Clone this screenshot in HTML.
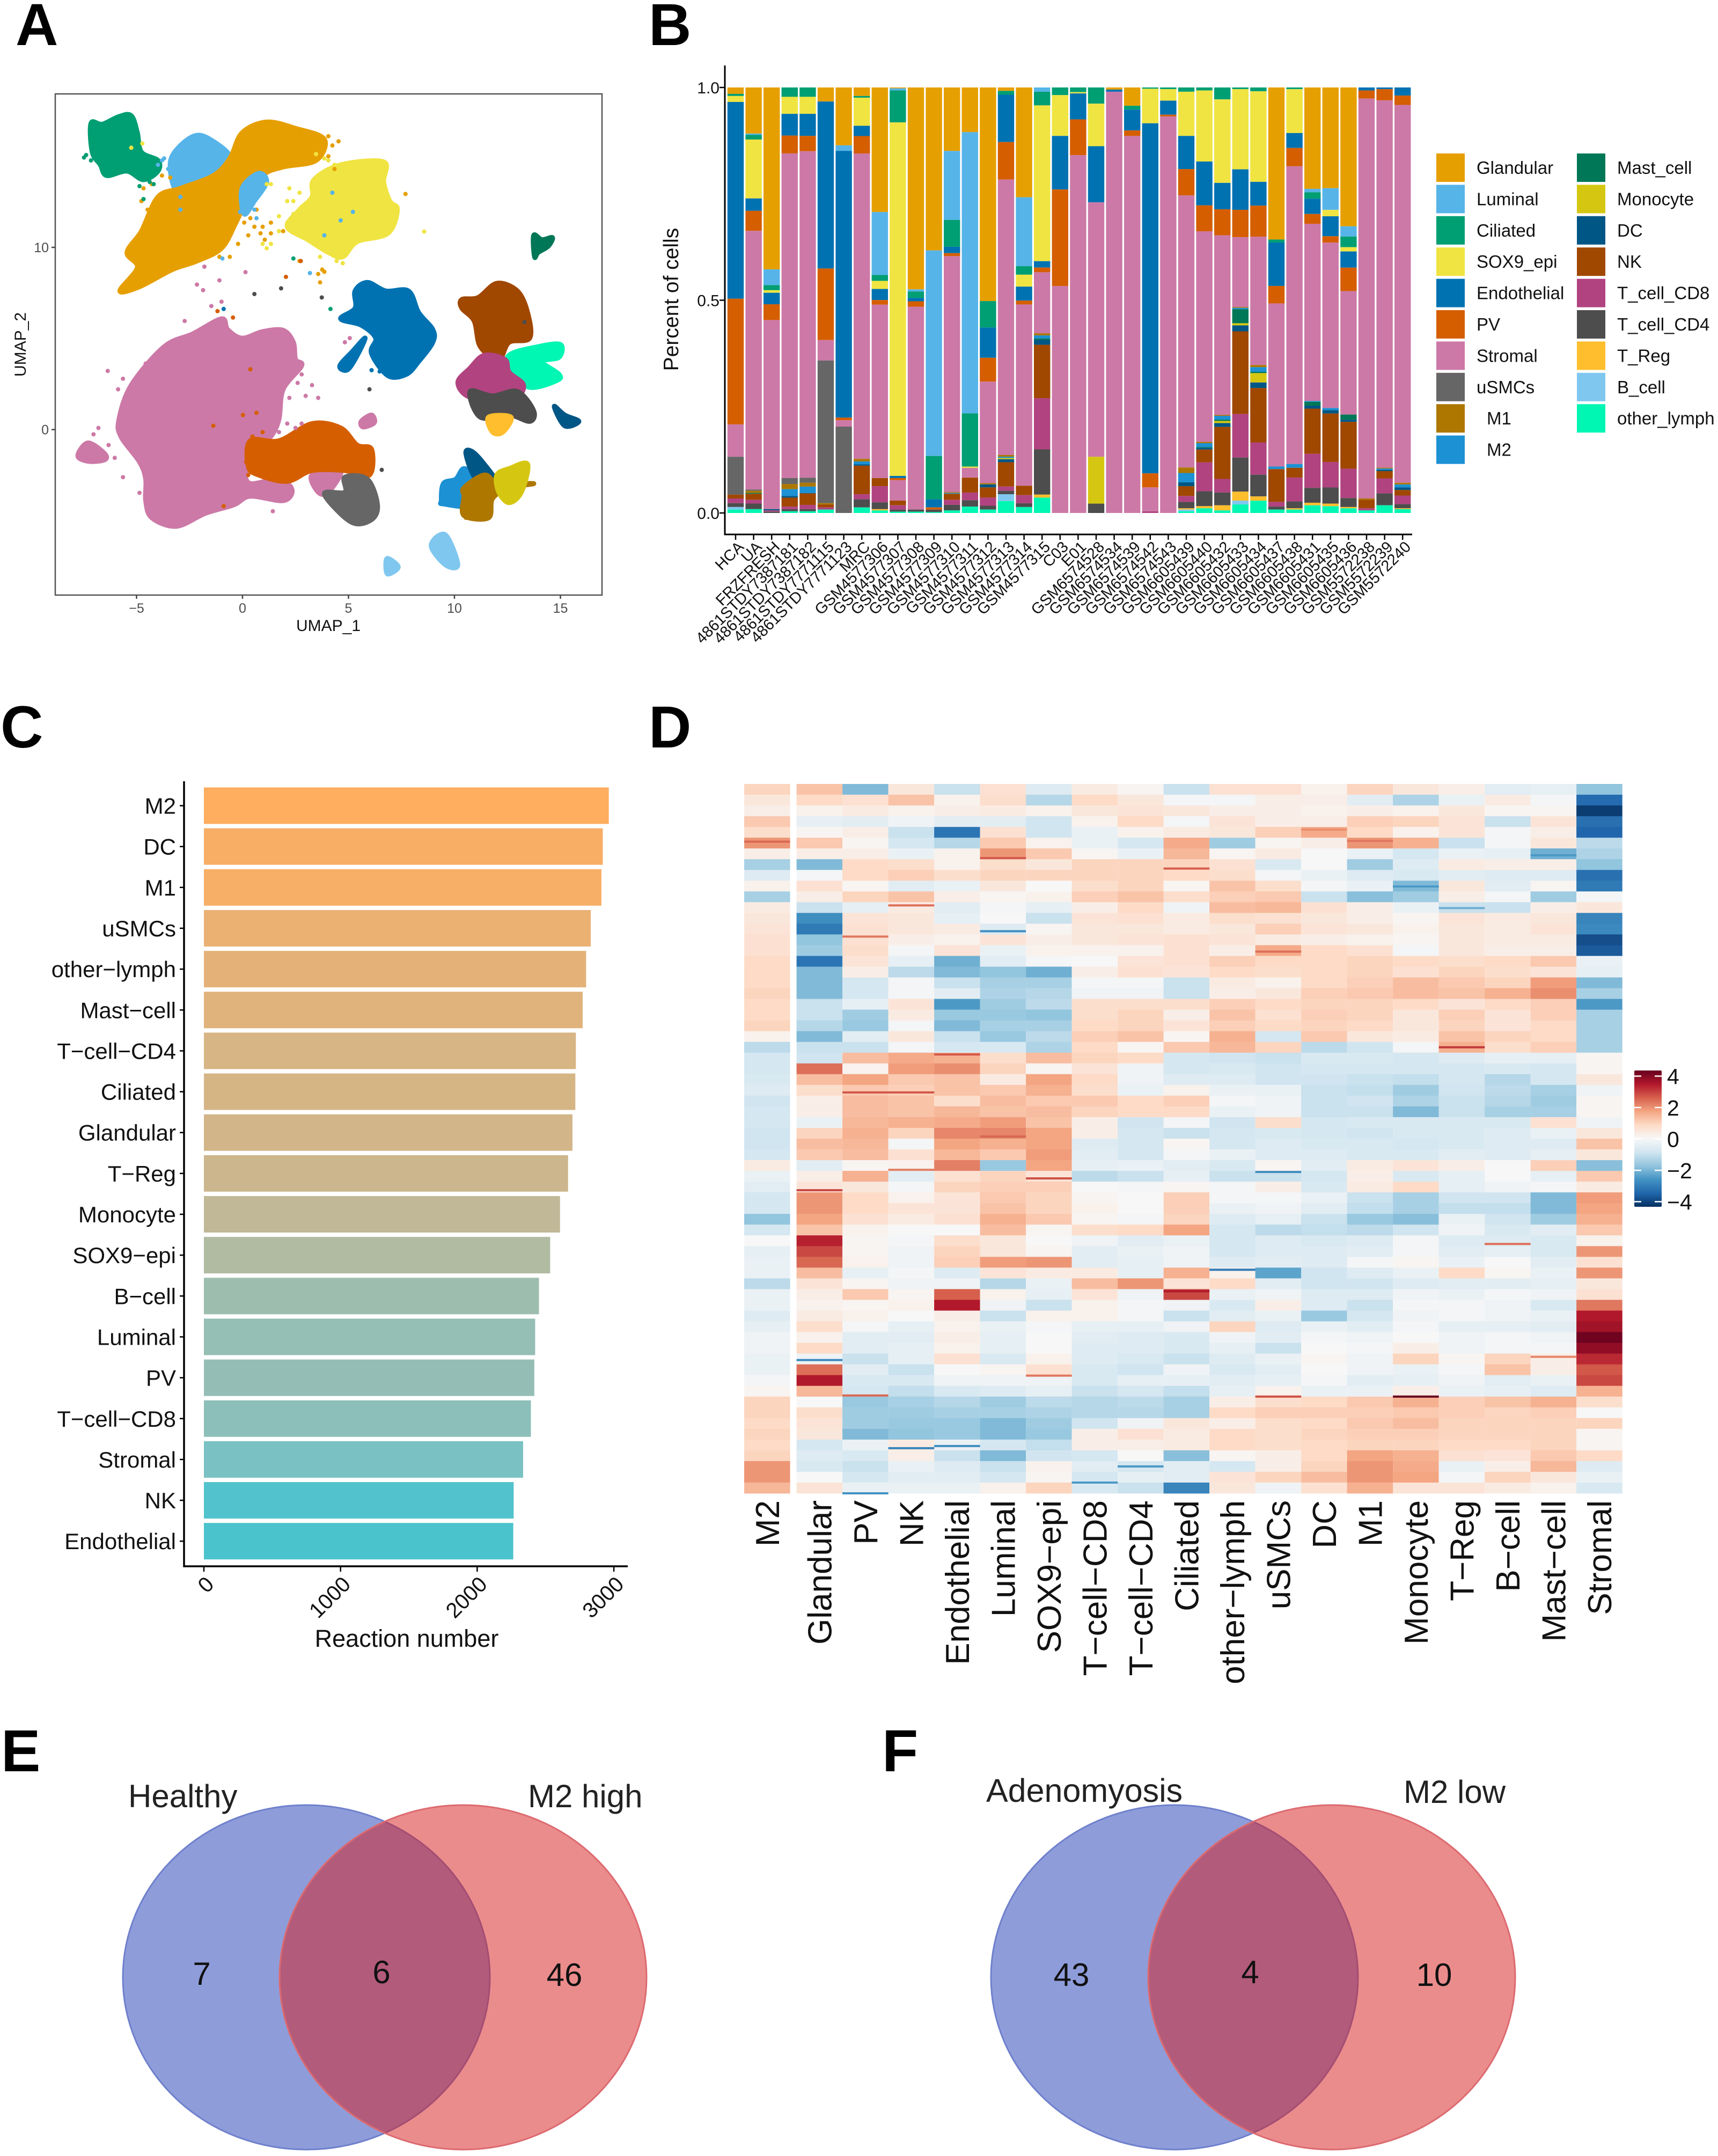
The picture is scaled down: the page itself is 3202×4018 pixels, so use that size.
<!DOCTYPE html>
<html lang="en">
<head>
<meta charset="utf-8">
<title>Cell atlas multi-panel figure</title>
<style>
html,body{margin:0;padding:0;background:#fff;}
svg{display:block;font-family:"Liberation Sans",Arial,sans-serif;}
</style>
</head>
<body>
<svg id="figure" xmlns="http://www.w3.org/2000/svg" width="3202" height="4018" viewBox="0 0 3202 4018">
<rect x="0" y="0" width="3202" height="4018" fill="#ffffff"/>
<g font-weight="700" font-size="110" fill="#000">
<text x="29" y="84">A</text>
<text x="1209" y="84">B</text>
<text x="1" y="1393">C</text>
<text x="1209" y="1393">D</text>
<text x="2" y="3301">E</text>
<text x="1644" y="3301">F</text>
</g>
<g id="panelA"></g>
<g id="panelB"></g>
<g id="panelC"></g>
<g id="panelD"></g>
<g>
<ellipse cx="571" cy="3685" rx="342" ry="321" fill="rgb(29,59,181)" fill-opacity=".5" stroke="#6f80cc" stroke-width="3"/>
<ellipse cx="863" cy="3685" rx="342" ry="321" fill="rgb(215,25,25)" fill-opacity=".5" stroke="#dc6a70" stroke-width="3"/>
<text x="239" y="3368" font-size="60" fill="#222">Healthy</text>
<text x="984" y="3368" font-size="60" fill="#222">M2 high</text>
<text x="376" y="3699" font-size="60" text-anchor="middle" fill="#111">7</text>
<text x="711" y="3696" font-size="60" text-anchor="middle" fill="#111">6</text>
<text x="1052" y="3701" font-size="60" text-anchor="middle" fill="#111">46</text>
</g>
<g>
<ellipse cx="2189" cy="3685" rx="342" ry="321" fill="rgb(29,59,181)" fill-opacity=".5" stroke="#6f80cc" stroke-width="3"/>
<ellipse cx="2482" cy="3685" rx="342" ry="321" fill="rgb(215,25,25)" fill-opacity=".5" stroke="#dc6a70" stroke-width="3"/>
<text x="1838" y="3358" font-size="61" fill="#222">Adenomyosis</text>
<text x="2616" y="3360" font-size="60" fill="#222">M2 low</text>
<text x="1997" y="3701" font-size="60" text-anchor="middle" fill="#111">43</text>
<text x="2330" y="3696" font-size="60" text-anchor="middle" fill="#111">4</text>
<text x="2673" y="3701" font-size="60" text-anchor="middle" fill="#111">10</text>
</g>
</svg>
<script>
/* ---------- shared palette ---------- */
const cellTypes = ['Glandular','Luminal','Ciliated','SOX9_epi','Endothelial','PV','Stromal','uSMCs','M1','M2','Mast_cell','Monocyte','DC','NK','T_cell_CD8','T_cell_CD4','T_Reg','B_cell','other_lymph'];
const cellColors = ['#E69F00','#56B4E9','#009E73','#F0E442','#0072B2','#D55E00','#CC79A7','#666666','#AD7700','#1C91D4','#007756','#D5C711','#005685','#A04700','#B14380','#4D4D4D','#FFBE2D','#80C7EF','#00F6B3'];

/* ---------- panel A: UMAP cluster outlines and stray cells (UMAP units) ---------- */
const umapTicksX = [-5,0,5,10,15];
const umapTicksY = [0,10];
const stromalOutline = [[-.99,6.08],[-.7,5.49],[-.02,5.02],[.95,5.38],[1.92,5.45],[2.4,4.79],[2.5,3.85],[2.79,3.5],[1.92,2.21],[1.72,.56],[1.34,-.38],[.56,-1.31],[.17,-2.25],[.37,-2.96],[1.72,-2.72],[2.34,-3.31],[1.92,-3.9],[.37,-3.66],[-.41,-4.13],[-1.76,-4.6],[-3.12,-5.31],[-4.28,-4.84],[-4.57,-3.9],[-4.57,-2.72],[-4.86,-1.78],[-5.74,-.38],[-5.83,.56],[-5.25,2.44],[-3.7,4.55],[-2.34,5.26]];
const stromalLeftIsland = [[-7.77,-1.43],[-7.29,-.73],[-6.51,-1.31],[-6.51,-1.66],[-7.29,-1.74]];
const stromalRightIsland = [[5.6,.45],[6.08,.8],[6.22,.38],[5.7,.14]];
const stromalLowerIsland = [[3.28,-2.49],[4.63,-2.25],[4.05,-3.43],[3.57,-3.43]];
const luminalOutline = [[-3.41,14.65],[-2.93,15.59],[-2.15,16.15],[-1.38,15.82],[-.6,15],[-.99,14.18],[-2.15,13.59],[-3.12,13.12]];
const ciliatedOutline = [[-7.15,16.81],[-6.61,16.76],[-5.83,17.18],[-5.25,17.23],[-4.96,16.29],[-4.77,15.23],[-3.99,14.77],[-3.99,14.18],[-4.67,13.71],[-5.45,14.18],[-6.41,13.94],[-6.71,14.53],[-7.09,15.23]];
const glandularOutline = [[-5.79,7.61],[-4.96,8.9],[-5.45,9.72],[-4.77,10.89],[-3.99,12.77],[-2.93,13.24],[-1.38,13.94],[-.6,14.88],[-.02,16.29],[1.14,16.88],[2.5,16.53],[3.86,15.94],[3.47,14.77],[1.92,14.41],[.95,13.94],[.17,12.54],[-.31,11.36],[-.99,9.95],[-2.15,9.25],[-3.31,8.78],[-4.86,7.84]];
const luminalPatch = [[-.02,13.24],[.75,14.06],[1.14,13.59],[.56,12.54],[.08,11.83]];
const sox9Outline = [[3.37,13.71],[4.63,14.53],[6.66,14.69],[6.66,13.59],[6.95,12.54],[7.31,12.07],[6.86,10.77],[5.41,10.31],[4.73,9.48],[4.05,9.72],[3.08,10.42],[2.11,11.13],[2.69,12.07],[3.28,12.77]];
const endothelialOutline = [[5.31,7.61],[5.89,8.08],[6.76,7.61],[7.83,7.61],[8.31,6.43],[8.98,5.49],[8.98,4.79],[8.31,3.73],[7.73,3.03],[6.86,2.96],[6.08,4.2],[6.28,5.02],[5.6,5.73],[4.63,6.08],[5.31,6.66]];
const endothelialIsland = [[4.59,3.5],[5.21,4.32],[5.79,5.02],[5.31,3.85],[4.92,3.26]];
const pvOutline = [[.27,-2.02],[.37,-.61],[1.72,-.61],[3.28,.33],[4.63,.09],[5.41,-.85],[6.09,-1.08],[5.99,-2.49],[4.82,-2.25],[3.28,-2.25],[2.11,-2.84],[.75,-2.49]];
const usmcOutline = [[4.83,-2.61],[5.89,-2.72],[6.37,-4.13],[6.08,-4.95],[5.12,-5.07],[3.86,-3.54],[4.83,-3.43]];
const nkOutline = [[10.35,7.14],[11.12,7.25],[12,8.03],[12.97,7.61],[13.45,6.43],[13.55,5.02],[12.58,4.79],[12.09,3.85],[11.22,4.55],[10.93,5.96],[10.35,6.66]];
const cd8Outline = [[10.16,2.56],[10.74,3.38],[11.41,4.08],[12.38,3.85],[12.58,3.15],[13.26,2.44],[12.78,1.74],[10.83,1.74]];
const cd4Outline = [[10.74,2.09],[11.8,1.85],[12.97,2.09],[13.74,1.03],[13.55,.45],[12.58,.8],[11.22,.68]];
const tregOutline = [[11.61,.68],[12.67,.68],[12.28,-.14],[11.8,-.14]];
const lymphOutline = [[12.58,4.08],[13.93,4.55],[15,4.67],[14.94,3.97],[14.13,3.73],[14.94,3.03],[14.81,2.68],[13.55,2.32],[12.58,3.15]];
const mastOutline = [[13.74,10.66],[14.13,10.42],[14.62,10.54],[14.43,10.07],[13.95,9.72],[13.78,9.48]];
const dcRightIsland = [[14.71,1.27],[15.2,.8],[15.87,.45],[15.2,.21]];
const dcOutline = [[10.54,-1.31],[10.83,-1.2],[11.41,-1.9],[12,-2.96],[11.03,-2.72]];
const m2Outline = [[9.38,-3.9],[9.48,-2.96],[10.06,-2.72],[10.45,-2.14],[11.03,-2.72],[10.83,-4.13],[9.48,-4.08]];
const m1Outline = [[10.45,-3.19],[11.41,-2.49],[12.09,-2.96],[13.74,-2.96],[12.58,-3.19],[11.8,-3.78],[11.61,-4.84],[10.45,-4.72],[10.45,-3.66]];
const monocyteOutline = [[12,-2.49],[12.58,-2.14],[13.45,-1.9],[13.16,-3.43],[12.58,-4.01],[12.09,-3.43]];
const bcellOutline = [[8.9,-6.36],[9.57,-5.77],[10.16,-7.42],[9.57,-7.42]];
const bcellIsland = [[6.76,-7.42],[6.86,-7.07],[7.35,-7.54],[6.86,-7.93]];
const stromalStrays = [[-6.36,3.22],[-5.64,2.79],[-5.87,2.21],[-4.57,3.62],[-4.19,3.73],[-6.8,.09],[-7.03,-.26],[-6.32,-.85],[-6.03,-1.55],[-5.64,-2.61],[-4.86,-3.47],[2.79,3.03],[2.6,2.56],[3.28,2.44],[2.98,1.85],[3.57,1.74],[2.21,1.74],[2.11,.33],[2.5,.09],[1.43,-4.48],[-2.15,7.96],[-1.86,7.65],[-1.09,8.19],[.14,8.64],[-1.8,8.94],[-1.47,6.78],[-.99,7.02],[-.89,5.96],[-2.73,5.96],[-3.41,4.79],[4.83,4.79],[5.06,5.02],[1.72,-.14],[2.79,.33]];
const glandularStrays = [[4.53,15.82],[4.05,16.1],[4.05,15],[7.69,12.93],[3.86,8.66],[3.66,8.08],[-4.48,12.07],[-4.67,13.24],[-3.41,13.83],[.95,11.13],[1.34,10.77],[.37,11.6],[-.21,10.19],[4.34,14.3],[2.69,9.25],[-3.8,13.94],[-4.28,13.47],[-4.77,12.54],[.56,11.13],[.85,10.77],[1.34,11.36],[.27,10.66],[3.47,14.88],[3.86,15.47],[4.24,15.59],[3.47,15.35],[3.76,8.78],[3.57,8.54],[1.92,10.89],[1.05,10.42],[-.6,9.48],[-1.09,9.48],[.08,11.36],[.66,12.07]];
const sox9Strays = [[8.57,10.87],[4.05,14.77],[3.47,15.12],[2.4,12.54],[2.21,13.24],[1.14,13.47],[1.14,9.95],[4.73,9.13],[.95,10.19],[-5.25,15.47],[-4.73,15.7],[1.72,11.71],[1.34,13.47],[2.11,12.54],[2.4,11.83],[2.69,13],[2.11,11.36],[1.72,10.89],[1.34,10.19],[3.66,9.48],[4.44,9.25],[3.86,14.88],[4.34,14.53]];
const ciliatedStrays = [[-7.48,14.93],[-7.15,14.77],[-4.67,12.65],[-4.19,13.47],[2.4,9.39],[4.15,6.62],[-4.86,13.36],[-4.38,13.59],[-7.38,15.07],[-6.61,14.18]];
const luminalStrays = [[.17,12.07],[.66,11.6],[-.02,12.54],[3.86,10.66],[4.24,13],[4.63,11.48],[5.21,11.95],[-2.93,12.07],[3.18,8.59],[-.95,9.39],[-3.99,14.53],[-3.7,14.88],[-3.51,14.3],[-3.8,14.77],[.37,12.54],[.17,11.83],[.56,12.07],[-.12,11.95],[.95,13.24],[.47,13],[-2.93,12.77]];
const pvStrays = [[.37,3.31],[.02,.8],[.66,.92],[-1.38,.21],[-.45,6.15],[-1.18,6.5],[2.05,8.38],[2.75,9.25],[-.89,-4.2],[.17,-1.78],[.27,-2.49],[.47,-.38],[.95,-.14]];
const cd4Strays = [[.56,7.44],[1.82,7.75],[3.74,7.25],[5.99,2.21],[6.57,-2.21],[13.3,5.9]];
const endothelialStrays = [[6.09,3.26],[6.47,3.19],[-.89,6.62]];
const m1Strays = [[10.83,-4.37],[11.32,-4.72],[10.54,-4.84],[11.61,-4.25]];

/* ---------- panel B: percent composition per sample, one array per cell type ---------- */
const sampleNames = ['HCA','UA','FRZFRESH','4861STDY7387181','4861STDY7387182','4861STDY7771115','4861STDY7771123','MRC','GSM4577306','GSM4577307','GSM4577308','GSM4577309','GSM4577310','GSM4577311','GSM4577312','GSM4577313','GSM4577314','GSM4577315','C03','E01','GSM6574528','GSM6574534','GSM6574539','GSM6574542','GSM6574543','GSM6605439','GSM6605440','GSM6605432','GSM6605433','GSM6605434','GSM6605437','GSM6605438','GSM6605431','GSM6605435','GSM6605436','GSM5572238','GSM5572239','GSM5572240'];
const pctGlandular = [1.5,10.8,42.7,0,0,3.3,13.6,2,29.3,.2,47.4,38.3,14.9,10.5,50.1,.8,25.8,0,0,0,0,.5,4.3,0,0,0,0,0,0,0,35.7,0,23.8,23.7,32.6,0,0,0];
const pctLuminal = [0,.3,3.7,0,0,0,1.3,0,14.8,.5,.5,48.3,16.2,66.1,0,0,16.2,1,0,0,0,0,0,0,0,0,0,0,0,0,0,0,.8,5.1,2.4,0,0,0];
const pctCiliated = [.5,1.1,1.2,2.2,2.2,0,0,.4,1.4,7.5,1.5,10.2,6.3,12.5,6.2,.9,2,3.2,1.8,1.1,3.8,0,.9,.3,.4,1,.7,2.8,.4,.9,.7,.4,1.5,0,2.5,0,0,0];
const pctSox9 = [1.4,13.8,.6,4,4,0,0,6.6,1.9,83,0,0,0,.3,0,0,2.8,36.5,9.6,.3,10,0,0,8.1,2.7,10.4,16.7,19.6,18.8,21.3,0,10.3,0,1.5,1,0,0,0];
const pctEndothelial = [46.2,2.9,2.7,5.1,5.2,39.2,62.7,2.4,2.6,.5,.8,1.9,1.5,0,7.1,11.1,3.3,1.5,12.6,6.1,13.2,.5,4.9,82.1,3.3,7.8,10.3,6.2,9.5,5.6,10.2,3.5,3.6,4.7,3.8,.7,.4,1.9];
const pctPV = [29.5,4.7,3.7,4.2,3.6,16.8,.6,4.1,1.1,.5,1.3,.5,.7,0,5.6,8.8,.9,1.1,22.7,8.4,0,0,1.3,3.3,.4,6.2,6.1,6.1,6.4,7.3,4.1,4.3,2.3,1.5,5.5,1.9,2.6,2.2];
const pctStromal = [7.6,60.6,44.4,76.3,76.8,4.8,1.5,71.7,40.8,4.8,47.6,0,55.4,2.3,23.8,64.6,42.6,14.3,53.4,84.1,59.8,98.9,88.6,5.6,93.2,64,49.5,42.2,16.4,30.2,38.3,69.9,41.6,38.9,29,93.8,86,88.8];
const pctUsmc = [8.9,.3,0,1.4,1.2,33.5,20.3,0,0,0,0,0,0,0,0,0,0,0,0,0,0,0,0,0,0,0,0,0,0,0,0,0,0,0,0,0,0,0];
const pctM1 = [0,.5,0,1.2,.9,.3,0,.6,0,0,0,0,.2,0,.3,.4,0,.5,0,0,0,0,0,0,0,1.3,.3,.2,.2,.5,0,0,0,0,0,.3,.2,.4];
const pctM2 = [0,0,0,1.6,1.5,0,0,.7,0,0,0,0,.2,0,0,.3,0,.7,0,0,0,0,0,0,0,2.2,.9,.9,.3,1.1,.6,.9,.2,.5,0,0,.3,.7];
const pctMast = [0,.2,0,0,0,0,0,0,0,0,0,0,0,0,0,0,0,.3,0,0,0,0,0,0,0,0,.2,.3,3.3,.3,0,0,.9,0,1.2,0,0,0];
const pctMonocyte = [0,0,0,0,0,0,0,0,0,0,0,0,0,0,0,.3,0,0,0,0,11,0,0,0,0,0,0,.5,.5,2.2,0,0,0,0,0,0,0,0];
const pctDC = [0,0,.3,.4,.1,0,0,.3,0,0,0,0,0,0,.7,.7,0,1.2,0,0,0,0,0,0,0,.9,.4,.9,1.4,1.3,0,0,.7,.8,.5,0,.3,.6];
const pctNK = [.9,1.4,0,2.1,2.7,.7,0,6.7,1.9,1.1,0,0,1.4,3.5,2.4,5.7,2.2,12.5,0,0,0,0,0,0,0,2.3,3,12.2,19.4,12.8,7.7,2.3,10.6,11.4,11,2,1.7,1.3];
const pctCD8 = [1.1,.9,.3,.6,1,.5,0,1.2,3.8,1,0,0,1.2,1.8,1.9,1,1.9,12,0,0,0,0,0,.4,0,1.4,6.8,3.2,10.2,7.6,1.1,5.6,8,6,6.9,.5,3.5,2];
const pctCD4 = [.9,1.3,.3,.5,.5,0,0,1.9,1.6,.5,.5,.6,1.3,1.5,.9,.8,.9,10.6,0,0,2.2,0,0,0,0,1.5,3.5,3,8,5.1,.7,1.6,3.5,3.8,2.1,0,2.8,1];
const pctTreg = [0,0,0,0,0,0,0,0,.3,0,0,0,0,0,0,0,0,.7,0,0,0,0,0,0,0,.3,.5,1.2,2.1,1,0,.3,.6,.6,.3,0,0,.2];
const pctBcell = [.6,0,0,0,0,0,0,0,0,0,0,0,0,0,0,1.6,0,0,0,0,0,0,0,0,0,.4,0,0,.9,0,0,0,0,0,0,0,0,0];
const pctOther = [.8,.9,0,.4,.4,.8,0,1.3,.6,.3,.3,.2,.6,1.5,.8,2.8,1.4,3.6,0,0,0,0,0,0,0,.4,1.1,.6,2,2.9,.8,.8,1.8,1.6,1.1,.6,1.8,.9];
const percentTicks = [0,0.5,1];

/* ---------- panel C: reaction numbers ---------- */
const reactionCategories = ['M2','DC','M1','uSMCs','other−lymph','Mast−cell','T−cell−CD4','Ciliated','Glandular','T−Reg','Monocyte','SOX9−epi','B−cell','Luminal','PV','T−cell−CD8','Stromal','NK','Endothelial'];
const reactionValues = [2963,2919,2909,2831,2797,2772,2722,2718,2697,2665,2606,2534,2452,2424,2418,2393,2336,2267,2264];
const reactionTicks = [0,1000,2000,3000];

/* ---------- panel D: pathway activity z-scores, one array per column, banded rows ---------- */
const heatColumns = ['M2','Glandular','PV','NK','Endothelial','Luminal','SOX9−epi','T−cell−CD8','T−cell−CD4','Ciliated','other−lymph','uSMCs','DC','M1','Monocyte','T−Reg','B−cell','Mast−cell','Stromal'];
const hmM2 = [1,.5,.3,1.2,.8,2,.3,-1.5,-.6,.2,-1.5,.4,.5,.6,.7,.7,.9,.9,.9,1,.9,.9,1,.2,-1.2,-.8,-.8,-.7,-.6,-.9,-.8,-.8,-.9,-.9,-.8,.4,-.3,-.5,-.8,-.8,-1.8,-.8,0,-.4,-.3,-.3,-1.2,-.3,-.3,-.6,-.4,-.2,-.2,-.3,-.3,-.1,.1,1,1,.9,1,.9,1,2,2,1.5];
const hmGlandular = [1.3,.9,.2,-.4,.1,1.2,.3,-2,-.1,.7,.3,-1,-2.8,-3.2,-1.8,-1.6,-3.3,-2,-2,-2,-1,-1,-1.3,-2,-1,-.9,2.5,1.4,.8,.3,.3,-.3,1,1.4,1.2,-.5,.3,.6,2,2,1.8,1.3,3.5,3,2.6,1.4,.6,.3,.2,.4,.8,.2,.9,-.2,2.5,3.6,1.5,0,.8,.6,.5,-.8,-.6,-.7,0,.6];
const hmPV = [-2,.7,.4,-.5,.3,.1,.3,.9,.9,.1,1,-.4,.6,.7,.7,.8,.6,.3,-.8,-.8,-.4,-1.6,-1.7,-.5,-1,1.4,.2,1.8,1.2,1.4,1.4,1.5,1.6,1.5,1.4,.1,1.6,.5,.9,.9,.7,.2,.1,.1,.2,-.4,.1,1.2,.1,.2,-.1,-.5,-.5,-1,-.5,-.7,-.8,-1.7,-1.6,-1.6,-2,-.3,-.7,-1,-.8,-.3];
const hmNK = [.5,1.3,.2,-.2,-1,-.8,-.3,.8,1.1,-.5,1.3,.4,.5,.5,.3,-.1,-.4,-1.2,-.1,-.1,.6,.4,-.1,.5,-.1,1.7,1.9,1.2,1.1,1.3,1.3,1.6,1,-.1,.7,.2,-.5,-.1,.2,.6,.4,0,-.1,-.2,-.2,-.1,-.2,.1,.2,0,-.4,-.5,-.4,-.4,-1,-.7,-1.1,-1.5,-1.6,-1.7,-1.8,.4,.3,-.3,-.5,-.3];
const hmEndothelial = [-1,.2,.3,-.5,-3.3,-1.3,.2,.2,.8,-.3,.3,-.5,-.4,.4,.2,.6,-2.2,-2,-1,-.5,-2.6,-1.7,-2,-1,-.8,1.6,2.1,1.3,1.3,.8,1.5,1.7,2.2,1.8,1.5,2.3,.7,1,.6,.6,.7,0,.8,1,1.1,-.6,-.2,2.7,3.6,.3,.2,.3,.2,.7,0,-.2,-.7,-1.3,-1.5,-1.7,-1.7,-.3,-1,-.6,-.5,-.3];
const hmLuminal = [.7,.8,.4,-.5,.7,1.2,2,.8,1,.5,.1,-.1,0,-.6,.6,-.3,-.5,-1.8,-1.5,-1.4,-1.6,-1.7,-1.5,-1.7,-.7,.8,1,.4,1.2,1.4,1.3,1.9,2.2,1.6,1.2,-1.7,1,1.1,1.2,1.3,1.6,1.4,.5,.5,1.9,.6,-1.3,.2,-.2,-1,-.3,-.4,-.4,-.7,.1,-.2,-.6,-1.6,-1.5,-2,-2,-.8,-2,-1,-.8,.2];
const hmSox9 = [-.6,-1.3,.2,-.9,-.9,.2,1.2,.5,1,0,.2,-.4,-1,.1,.3,.2,-.1,-2.2,-1.5,-1.3,-1.2,-1.8,-1.5,-1.2,-1.4,1.4,.1,1.8,1.6,1.2,1.4,1.3,1.8,1.8,1.9,1.8,.6,1.1,1,1,1.2,.1,0,.1,2,.4,-.3,-.4,-1,.2,-.1,0,0,.2,.7,-.2,-.4,-1.2,-1.4,-1.6,-1.7,-1.1,-.9,.2,.1,1];
const hmCD8 = [.4,.9,.5,.2,-.3,-.3,.1,1,1,.8,1.1,.3,.6,.5,.5,.2,0,.3,-.1,-.2,.8,.8,.9,1.1,.9,1,.6,.9,.8,1.2,1,.3,.3,-.6,-.5,-.4,-1.2,0,.1,.2,.1,.8,-.2,-.5,-.5,.4,1.4,.6,.2,.2,-.4,-.5,-.6,-.6,-.7,-.7,-1,-1.3,-1.3,-.9,.3,.3,-.8,-.5,-.8,-.7];
const hmCD4 = [.1,.5,.6,.9,.2,-.8,-.3,1,1,1,1.3,.9,.7,.5,.6,.2,.6,.7,-.1,-.2,.8,1,1,1.3,.1,.9,-.2,-.2,-.3,.9,.9,-.9,-.8,-.8,-.8,-.3,-1,-.1,0,0,-.1,.9,-.5,-.3,-.4,-.4,2,-.2,-.1,-.1,-.4,-.6,-.6,-.7,-.9,-.4,-.8,-1.2,-1.3,-.2,.7,.3,0,-.8,-.4,-1];
const hmCiliated = [-1,-.1,.5,-.1,.4,1.7,1.5,1,.9,.1,.8,-.2,.4,.4,.7,.7,.7,.6,-1,-1,.8,.3,.6,.1,1.2,-.8,-.8,-.6,.2,1.1,.9,-.1,-1,.1,-.1,-.5,-.4,.1,1.1,1.1,1,1.8,-.3,-.2,-.2,1.6,.6,3,-.2,-1,-.2,-.7,-.7,-1,-.2,-.4,-1.1,-1.5,-1.5,.5,.4,.4,-1.9,-.5,-.5,-3];
const hmLymph = [.7,-.1,.3,.6,.5,-1.6,.1,.7,.8,1.3,1.1,1.4,.8,.5,.6,.3,1.1,.9,.4,.3,1.1,1.3,1.1,1.6,1.5,-.9,-.7,-.6,-.3,-.1,-.3,-.9,-.8,-.8,-.3,-.7,-1,-.1,-.1,-.3,-.6,-.8,-.8,-.8,-.6,.2,.9,-.3,-.7,-.5,1,-.2,-.4,-.6,-.7,-.5,-.4,.3,.9,.3,.9,.9,.1,-.8,.6,.5];
const hmUsmc = [.7,.3,.3,.3,1.1,.1,.4,-.7,-.1,.8,1.2,1.5,.7,1.1,.4,1.7,.9,.8,.2,.5,.9,.7,.9,-.8,1,-1,-.9,-.9,-.3,-.2,-.2,.8,-.7,-.6,-.6,.1,-1,.3,-.1,-.2,-.4,-1.2,-.6,-.6,-.5,-2.4,-.5,-.2,.3,-.3,-.6,-.5,-1,-.3,-.5,-.4,.2,.8,1.1,.8,.8,.8,.3,.3,1,-.2];
const hmDC = [.2,.3,.2,.3,1.7,.3,0,0,-.3,-.1,-1,.7,.5,.6,.3,.9,.9,.9,.9,1.1,1,1.1,1,1.2,-1.2,-.7,-.8,-.9,-1,-1,-1,-.8,-.8,-.7,-.6,-.5,-.8,-.7,-.3,-.5,-1,-1.1,-.7,-.6,-.6,-.9,-.9,-.6,-.6,-1.7,-.3,-.1,0,.1,0,-.1,-.3,.9,1.1,.9,1,.9,.9,1,1.4,.7];
const hmM1 = [1,-.5,.3,1.1,.9,2,-.3,-1.6,-.6,-.3,-1.9,.3,.3,.5,.2,.7,1,1,1.1,1.2,1,1,.9,.5,-.9,-.7,-.8,-1,-1.1,-.9,-1,-.7,-.9,-.7,-.7,.4,.3,.4,-1,-1.1,-1.7,-1.2,-.6,-.5,-.1,-.6,-.9,-.6,-1,-.8,-.5,-.2,-.1,-.2,-.2,-.5,-.3,1.2,1.1,1.2,1.1,1,1.8,2,2,1.6];
const hmMonocyte = [.5,-1.4,.2,1,.2,1.6,-.8,-.6,-.7,-2,-1.6,-.3,.1,.2,.1,-.1,.9,.7,1.4,1.4,.9,.5,.5,.4,-.1,-.8,-.8,-1.1,-1.6,-1.4,-2,-.7,-.7,-.8,-.7,.6,-.7,.9,-1.5,-1.5,-1.9,-.9,-.1,-.1,.1,-.3,-.6,-.2,-.1,-.2,-.1,0,.3,1,-.3,-.4,.3,1.6,1.2,1.4,1.1,1,1.6,1.7,1.8,.6];
const hmTreg = [.3,-.3,.5,.6,.6,-1,-.3,.4,-.5,.5,.3,-1,.6,.5,.5,.5,.8,1,1.2,1.3,.6,1.1,1,1.3,1.6,-.6,-.8,-.8,-.9,-1,-1,-.7,-.7,-.7,-.5,.3,-.4,-.4,-.9,-1.1,-.3,-.2,-.6,-.5,-.3,.9,-.5,-.3,-.1,-.1,-.4,-.2,-.2,.1,-.1,-.2,-.3,1.1,1.1,1,1,.9,.7,-.3,-.1,.6];
const hmBcell = [-.5,.4,.1,-1,-.1,-.1,-.4,.3,-.6,-.5,-.1,-1,.4,.4,.4,.3,.9,.8,1,1.6,.9,.6,.6,1,.8,-.4,-.7,-1.3,-1.2,-1.3,-1.5,-.7,-.6,-.6,-.6,0,0,-.2,-.9,-1.1,-.9,-.7,-.6,-.4,0,.1,-.5,-.1,-.2,-.2,-.4,-.1,-.1,1,1.3,-.5,-.4,1.3,1,1,1,.9,.6,.3,1,.4];
const hmMast = [-.4,-.1,.1,.6,.3,.5,-2.2,.3,-.6,.1,-1.6,.3,.5,.6,.4,.3,1.2,.6,1.9,2.1,1.1,1.1,.9,.9,1.1,-.4,-.8,-.8,-1.5,-1.6,-1.5,.7,-.3,-.6,-.4,1.1,-.4,-.1,-2,-2,-1.6,-.5,-.7,-.7,-.5,-.3,-.4,-.2,-.7,-.3,-.5,-.2,-.1,.3,.3,-.3,-.6,1.6,1.1,1,1,1,1.2,1.5,.5,.2];
const hmStromal = [-1.8,-3.5,-4.3,-3.4,-3.6,-1.2,-1.4,-1.8,-3.4,-3.2,-.1,.5,-3,-2.9,-4,-3.8,-.3,-.4,-2,-1.5,-2.6,-1.5,-1.5,-1.5,-1.5,.1,.1,.5,-.2,.1,.1,-.2,.5,1.3,.5,-1.9,1.2,.4,1.9,1.8,1.6,1.2,.2,2,.7,2,.5,.7,2.4,3.6,3.8,4.4,4,3.4,2.8,3,1.6,.8,0,1,.1,.1,.9,-.6,-.3,-.7];
/* thin single-row stripes: fractional band index, column index, z-score */
const streakRows = [5.27,6.8,13.6,14.1,11.2,7.77,32.7,37.7,36.6,47.1,54.95,56.8,61.7,61.5,64.9,63.4,65.9,53.5,35.8,45.1,56.9,36,56.9,42.7,53.2,24.4,9.44,15.5,4.15,5.2,11.45,6.54,25.07,28.6,28.6];
const streakCols = [0,5,5,2,3,9,5,1,6,9,6,2,3,4,7,8,2,1,3,10,11,11,14,16,17,15,14,11,12,13,15,17,4,2,3];
const streakVals = [2.6,2.8,-2.8,2.4,2.5,2.7,2.6,3,2.9,3.6,2.4,2.6,-3,-2.8,-2.6,-2.6,-2.7,-2.9,2.3,-3.2,2.9,-2.8,4.5,2.5,2.2,3.2,-2.6,2.5,2.1,2.4,-2.2,-2.6,2.8,2.8,2.8];
const heatLegendTicks = [4,2,0,-2,-4];

/* ---------- helpers ---------- */
const NS = 'http://www.w3.org/2000/svg';
function mk(parent, tag, attrs, txt){
  const el = document.createElementNS(NS, tag);
  for (const k in attrs) el.setAttribute(k, attrs[k]);
  if (txt !== undefined) el.textContent = txt;
  parent.appendChild(el);
  return el;
}
const fmtMinus = v => String(v).replace('-', '−');
/* closed Catmull-Rom spline through outline points */
function smoothClosed(pts){
  const n = pts.length;
  let d = 'M' + pts[0][0].toFixed(1) + ' ' + pts[0][1].toFixed(1);
  for (let i = 0; i < n; i++){
    const p0 = pts[(i - 1 + n) % n], p1 = pts[i], p2 = pts[(i + 1) % n], p3 = pts[(i + 2) % n];
    const c1x = p1[0] + (p2[0] - p0[0]) / 6, c1y = p1[1] + (p2[1] - p0[1]) / 6;
    const c2x = p2[0] - (p3[0] - p1[0]) / 6, c2y = p2[1] - (p3[1] - p1[1]) / 6;
    d += 'C' + c1x.toFixed(1) + ' ' + c1y.toFixed(1) + ' ' + c2x.toFixed(1) + ' ' + c2y.toFixed(1) + ' ' + p2[0].toFixed(1) + ' ' + p2[1].toFixed(1);
  }
  return d + 'Z';
}

/* ---------- panel A ---------- */
(function(){
  const g = document.getElementById('panelA');
  const xA = v => 452 + 39.5 * v;
  const yA = v => 800.6 - 33.96 * v;
  const colorOf = n => cellColors[cellTypes.indexOf(n)];
  const blobs = [
    ['Stromal',stromalOutline],['Stromal',stromalLeftIsland],['Stromal',stromalRightIsland],['Stromal',stromalLowerIsland],
    ['Luminal',luminalOutline],['Ciliated',ciliatedOutline],['Glandular',glandularOutline],['Luminal',luminalPatch],
    ['SOX9_epi',sox9Outline],['Endothelial',endothelialOutline],['Endothelial',endothelialIsland],
    ['PV',pvOutline],['uSMCs',usmcOutline],['NK',nkOutline],['other_lymph',lymphOutline],['T_cell_CD8',cd8Outline],
    ['T_cell_CD4',cd4Outline],['T_Reg',tregOutline],['Mast_cell',mastOutline],['DC',dcRightIsland],
    ['M2',m2Outline],['DC',dcOutline],['M1',m1Outline],['Monocyte',monocyteOutline],['B_cell',bcellOutline],['B_cell',bcellIsland]
  ];
  blobs.forEach(b => {
    const pts = b[1].map(p => [xA(p[0]), yA(p[1])]);
    const c = colorOf(b[0]);
    const el = mk(g, 'path', {d: smoothClosed(pts), fill: c, stroke: c, 'stroke-width': 9, 'stroke-linejoin': 'round'});
    
    
  });
  const strays = [['Stromal',stromalStrays],['Glandular',glandularStrays],['SOX9_epi',sox9Strays],['Ciliated',ciliatedStrays],['Luminal',luminalStrays],['PV',pvStrays],['T_cell_CD4',cd4Strays],['Endothelial',endothelialStrays],['M1',m1Strays]];
  strays.forEach(s => s[1].forEach(p => {
    const el = mk(g, 'circle', {cx: xA(p[0]), cy: yA(p[1]), r: 4, fill: colorOf(s[0])});
    
    
  }));
  const frame = mk(g, 'rect', {x: 103, y: 175, width: 1019, height: 934, fill: 'none', stroke: '#555', 'stroke-width': 2.5});
  
  
  umapTicksX.forEach(v => {
    const t = mk(g, 'line', {x1: xA(v), x2: xA(v), y1: 1109, y2: 1116, stroke: '#444', 'stroke-width': 2.5});
    
    
    const l = mk(g, 'text', {x: xA(v), y: 1142, 'font-size': 25, fill: '#4d4d4d', 'text-anchor': 'middle'}, fmtMinus(v));
    
    
  });
  umapTicksY.forEach(v => {
    const t = mk(g, 'line', {x1: 96, x2: 103, y1: yA(v), y2: yA(v), stroke: '#444', 'stroke-width': 2.5});
    
    
    const l = mk(g, 'text', {x: 91, y: yA(v) + 9, 'font-size': 25, fill: '#4d4d4d', 'text-anchor': 'end'}, String(v));
    
    
  });
  const xt = mk(g, 'text', {x: 612, y: 1176, 'font-size': 30, 'text-anchor': 'middle', fill: '#111'}, 'UMAP_1');
  
  
  const yt = mk(g, 'text', {x: 48, y: 642, 'font-size': 30, 'text-anchor': 'middle', fill: '#111', transform: 'rotate(-90 48 642)'}, 'UMAP_2');
  
  
})();

/* ---------- panel B ---------- */
(function(){
  const g = document.getElementById('panelB');
  const xB = i => 1371 + 33.6 * i;
  const yB = p => 956 - 793 * p;
  const series = [pctGlandular,pctLuminal,pctCiliated,pctSox9,pctEndothelial,pctPV,pctStromal,pctUsmc,pctM1,pctM2,pctMast,pctMonocyte,pctDC,pctNK,pctCD8,pctCD4,pctTreg,pctBcell,pctOther];
  sampleNames.forEach((name, i) => {
    const total = series.reduce((a, s) => a + s[i], 0);
    let cum = 1;
    series.forEach((s, k) => {
      if (!s[i]) return;
      const f = s[i] / total;
      const r = mk(g, 'rect', {x: xB(i) - 15.2, y: yB(cum), width: 30.4, height: yB(cum - f) - yB(cum), fill: cellColors[k]});
      
      
      cum -= f;
    });
    const t = mk(g, 'line', {x1: xB(i), x2: xB(i), y1: 996, y2: 1006, stroke: '#000', 'stroke-width': 2.5});
    
    
    const lx = xB(i) + 17, ly = 1021;
    const l = mk(g, 'text', {x: lx, y: ly, 'font-size': 29, 'text-anchor': 'end', fill: '#111', transform: 'rotate(-45 ' + lx + ' ' + ly + ')'}, name);
    
    
  });
  const ax = mk(g, 'path', {d: 'M1351 122V996H2632', fill: 'none', stroke: '#000', 'stroke-width': 3});
  
  
  percentTicks.forEach(v => {
    const t = mk(g, 'line', {x1: 1341, x2: 1351, y1: yB(v), y2: yB(v), stroke: '#000', 'stroke-width': 2.5});
    
    
    const l = mk(g, 'text', {x: 1341, y: yB(v) + 11, 'font-size': 30, 'text-anchor': 'end', fill: '#111'}, v.toFixed(1));
    
    
  });
  const yt = mk(g, 'text', {x: 1264, y: 558, 'font-size': 39, 'text-anchor': 'middle', fill: '#111', transform: 'rotate(-90 1264 558)'}, 'Percent of cells');
  
  
  cellTypes.forEach((name, i) => {
    const col = i < 10 ? 0 : 1, row = i < 10 ? i : i - 10;
    const sx = col ? 2939 : 2677, sy = 286 + 58.4 * row;
    const s = mk(g, 'rect', {x: sx, y: sy, width: 53, height: 53, fill: cellColors[i]});
    
    
    const indent = (name === 'M1' || name === 'M2') ? 19 : 0;
    const l = mk(g, 'text', {x: sx + 75 + indent, y: sy + 38, 'font-size': 33, fill: '#111'}, name);
    
    
  });
})();

/* ---------- panel C ---------- */
(function(){
  const g = document.getElementById('panelC');
  const xC = v => 380 + 0.2547 * v;
  const yC = i => 1501.5 + 76.15 * i;
  const lo = [75,195,205], hi = [255,173,94];
  const vmin = Math.min.apply(null, reactionValues), vmax = Math.max.apply(null, reactionValues);
  const fillFor = v => {
    const t = (v - vmin) / (vmax - vmin);
    const tr = Math.pow(t, 0.6);
    return 'rgb(' + Math.round(lo[0] + (hi[0] - lo[0]) * tr) + ',' + Math.round(lo[1] + (hi[1] - lo[1]) * t) + ',' + Math.round(lo[2] + (hi[2] - lo[2]) * t) + ')';
  };
  reactionCategories.forEach((name, i) => {
    const r = mk(g, 'rect', {x: xC(0), y: yC(i) - 34, width: xC(reactionValues[i]) - xC(0), height: 68, fill: fillFor(reactionValues[i])});
    
    
    const t = mk(g, 'line', {x1: 335, x2: 343, y1: yC(i), y2: yC(i), stroke: '#000', 'stroke-width': 2.5});
    
    
    const l = mk(g, 'text', {x: 328, y: yC(i) + 15, 'font-size': 42, 'text-anchor': 'end', fill: '#111'}, name);
    
    
  });
  const ax = mk(g, 'path', {d: 'M343 1456V2919H1170', fill: 'none', stroke: '#000', 'stroke-width': 3.5});
  
  
  reactionTicks.forEach(v => {
    const t = mk(g, 'line', {x1: xC(v), x2: xC(v), y1: 2919, y2: 2929, stroke: '#000', 'stroke-width': 2.5});
    
    
    const lx = xC(v) + 21, ly = 2955;
    const l = mk(g, 'text', {x: lx, y: ly, 'font-size': 40, 'text-anchor': 'end', fill: '#111', transform: 'rotate(-45 ' + lx + ' ' + ly + ')'}, String(v));
    
    
  });
  const xt = mk(g, 'text', {x: 758, y: 3069, 'font-size': 45, 'text-anchor': 'middle', fill: '#111'}, 'Reaction number');
  
  
})();

/* ---------- panel D ---------- */
(function(){
  const g = document.getElementById('panelD');
  const ramp = ['#053061','#2166AC','#4393C3','#92C5DE','#D1E5F0','#F7F7F7','#FDDBC7','#F4A582','#D6604D','#B2182B','#67001F'];
  const rgb = h => [1,3,5].map(i => parseInt(h.substr(i, 2), 16));
  const heatColor = v => {
    const p = Math.max(0, Math.min(10, (v + 4.5) / 0.9));
    const a = Math.floor(p), b = Math.min(10, a + 1), t = p - a;
    const A = rgb(ramp[a]), B = rgb(ramp[b]);
    return 'rgb(' + A.map((c, j) => Math.round(c + (B[j] - c) * t)).join(',') + ')';
  };
  const matrix = [hmM2,hmGlandular,hmPV,hmNK,hmEndothelial,hmLuminal,hmSox9,hmCD8,hmCD4,hmCiliated,hmLymph,hmUsmc,hmDC,hmM1,hmMonocyte,hmTreg,hmBcell,hmMast,hmStromal];
  const colX = c => c === 0 ? 1387 : 1484.6 + 85.5 * (c - 1);
  const nBands = hmM2.length;
  const bandH = 1322 / nBands;
  const rowY = r => 1461 + bandH * r;
  matrix.forEach((col, c) => {
    col.forEach((v, r) => {
      const el = mk(g, 'rect', {x: colX(c), y: rowY(r), width: 85.6, height: bandH + .4, fill: heatColor(v)});
      
      
    });
  });
  streakRows.forEach((r, i) => {
    const el = mk(g, 'rect', {x: colX(streakCols[i]), y: rowY(r), width: 85.6, height: 4, fill: heatColor(streakVals[i])});
    
    
  });
  heatColumns.forEach((name, c) => {
    const bx = colX(c) + 42.8 + 22;
    const l = mk(g, 'text', {x: bx, y: 2796, 'font-size': 62, 'text-anchor': 'end', fill: '#111', transform: 'rotate(-90 ' + bx + ' 2796)'}, name);
    
    
  });
  const defs = mk(g, 'defs', {});
  const grad = mk(defs, 'linearGradient', {id: 'heatLegendGradient', x1: 0, y1: 1, x2: 0, y2: 0});
  ramp.forEach((c, i) => mk(grad, 'stop', {offset: (i * 10) + '%', 'stop-color': c}));
  const yL = v => 2122.5 - 29.25 * v;
  const bar = mk(g, 'rect', {x: 3046, y: 1995, width: 51, height: 254, rx: 2, fill: 'url(#heatLegendGradient)'});
  
  
  heatLegendTicks.forEach(v => {
    const a = mk(g, 'line', {x1: 3046, x2: 3059, y1: yL(v), y2: yL(v), stroke: '#fff', 'stroke-width': 2.5});
    
    
    const b = mk(g, 'line', {x1: 3084, x2: 3097, y1: yL(v), y2: yL(v), stroke: '#fff', 'stroke-width': 2.5});
    
    
    const l = mk(g, 'text', {x: 3107, y: yL(v) + 15, 'font-size': 41, fill: '#111'}, fmtMinus(v));
    
    
  });
})();
</script>
</body>
</html>
